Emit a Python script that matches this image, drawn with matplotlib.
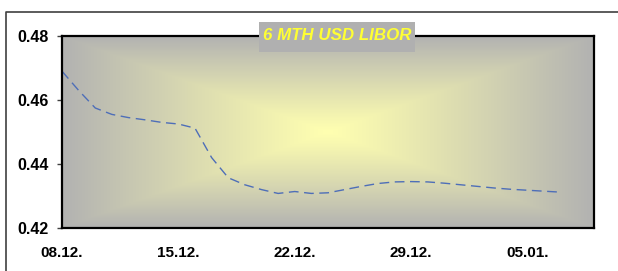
import matplotlib
matplotlib.use('Agg')
import matplotlib.pyplot as plt
import matplotlib.dates as mdates
from matplotlib.patches import Rectangle
from matplotlib.lines import Line2D
import numpy as np
import pandas as pd

plt.rcParams['font.family'] = ['Liberation Sans', 'DejaVu Sans']
plt.rcParams['font.weight'] = 'bold'

title = '6 MTH USD LIBOR'

# daily fixings
dates = pd.date_range('2003-12-08', '2004-01-07', freq='D')
libor = [0.4690, 0.4630, 0.4575, 0.4555, 0.4545, 0.4538, 0.4530, 0.4525,
         0.4512, 0.4420, 0.4357, 0.4335, 0.4320, 0.4308, 0.4314, 0.4308,
         0.4310, 0.4320, 0.4330, 0.4339, 0.4344, 0.4345, 0.4344, 0.4340,
         0.4335, 0.4330, 0.4325, 0.4321, 0.4318, 0.4315, 0.4312]

x_ticks = pd.to_datetime(['2003-12-08', '2003-12-15', '2003-12-22',
                          '2003-12-29', '2004-01-05'])
y_ticks = [0.42, 0.44, 0.46, 0.48]

fig = plt.figure(figsize=(6.18, 2.71), dpi=100)
ax = fig.add_axes([62 / 618, 1 - 228 / 271, 532 / 618, 192 / 271])

# rectangular "from centre" gradient, grey edges to pale yellow
ny, nx = 200, 400
yy, xx = np.mgrid[-1:1:ny * 1j, -1:1:nx * 1j]
t = np.maximum(np.abs(xx), np.abs(yy))
t = np.clip(t, 0, 1) ** 1.1
edge = np.array([0xB2, 0xB2, 0xB2]) / 255
centre = np.array([0xFF, 0xFF, 0xB0]) / 255
img = centre[None, None, :] * (1 - t[..., None]) + edge[None, None, :] * t[..., None]
ax.imshow(img, extent=[0, 1, 0, 1], transform=ax.transAxes, aspect='auto',
          zorder=0, interpolation='bilinear')

ax.plot(dates, libor, color='#4E6EB8', lw=1.0, ls=(0, (7, 4)), zorder=2)

ax.set_xlim(pd.Timestamp('2003-12-08'), pd.Timestamp('2004-01-09'))
ax.set_ylim(0.42, 0.48)
ax.set_xticks(x_ticks)
ax.xaxis.set_major_formatter(mdates.DateFormatter('%d.%m.'))
ax.set_yticks(y_ticks)
ax.set_yticklabels(['%.2f' % v for v in y_ticks])
ax.tick_params(axis='x', length=0, pad=13, labelsize=11)
ax.tick_params(axis='y', length=3.5, width=1, color='#404040', pad=6, labelsize=11.5)
for s in ax.spines.values():
    s.set_linewidth(1.6)
    s.set_color('black')

# title box
fig.patches.append(Rectangle((259 / 618, 1 - 52 / 271), 156 / 618, 30 / 271,
                             transform=fig.transFigure, facecolor='#B0B0B0',
                             edgecolor='none', zorder=5))
fig.text(337 / 618, 1 - 36 / 271, title, color='#FFFF33', fontsize=12.2,
         fontweight='bold', style='italic', ha='center', va='center', zorder=6)

# outer chart frame (partly visible)
fig.lines.append(Line2D([6 / 618, 6 / 618, 1.0], [0.0, 1 - 12 / 271, 1 - 12 / 271],
                        transform=fig.transFigure, color='#404040', lw=1.2))

fig.savefig('out.png', dpi=100)
